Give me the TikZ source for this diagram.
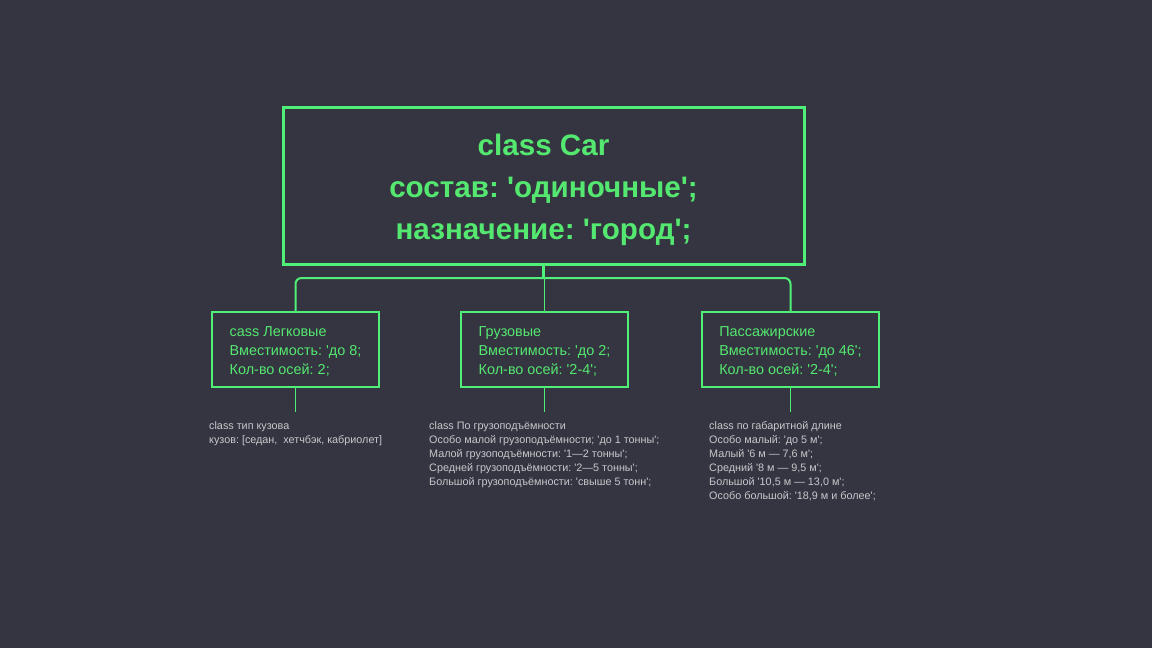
\documentclass[tikz,border=0pt]{standalone}
\usepackage{fontspec}
\setmainfont{Liberation Sans}[Ligatures=TeXOff]
\usetikzlibrary{positioning}
\definecolor{bgcol}{RGB}{52,53,64}
\definecolor{linegreen}{RGB}{80,240,120}
\definecolor{textgreen}{RGB}{84,232,112}
\definecolor{notegray}{RGB}{200,200,204}
\tikzset{
  rootbox/.style={draw=linegreen,line width=3pt,minimum width=521pt,minimum height=157pt},
  roottext/.style={align=center,text=textgreen,font=\fontsize{29.6}{42}\selectfont\bfseries},
  kindbox/.style={draw=linegreen,line width=1.8pt,minimum height=75pt},
  kindtext/.style={align=left,inner sep=0pt,text=textgreen,font=\fontsize{14.4}{19}\selectfont},
  note/.style={anchor=north west,inner sep=0pt,align=left,text=notegray,
    font=\fontsize{10.8}{14}\selectfont},
  wire/.style={draw=linegreen,line width=1.2pt},
}

\begin{document}
\frenchspacing
\begin{tikzpicture}[x=1pt,y=-1pt]
  \useasboundingbox[fill=bgcol] (0,0) rectangle (1152,648);
  % root class
  \node[rootbox] (car) at (543.5,185.5) {};
  \node[roottext] (cartext) at ([yshift=-4pt]car.center) {class Car\\состав: 'одиночные';\\назначение: 'город';};
  % three kinds
  \node[kindbox,minimum width=167pt] (legk) at (295.5,349.5) {};
  \node[kindbox,minimum width=167pt] (gruz) at (544.5,349.5) {};
  \node[kindbox,minimum width=177pt] (pass) at (790.5,349.5) {};
  \node[kindtext] (legktext) at ([yshift=-2pt]legk.center) {cass Легковые\\Вместимость: 'до 8;\\Кол-во осей: 2;};
  \node[kindtext] (gruztext) at ([yshift=-2pt]gruz.center) {Грузовые\\Вместимость: 'до 2;\\Кол-во осей: '2-4';};
  \node[kindtext] (passtext) at ([yshift=-2pt]pass.center) {Пассажирские\\Вместимость: 'до 46';\\Кол-во осей: '2-4';};
  % tree
  \coordinate (hub) at (543.5,278);
  \draw[wire,line width=3pt] (car.south) -- (hub);
  \draw[wire,line width=2pt,rounded corners=6pt] (legk.north) |- (hub) -| (pass.north);
  \draw[wire] (gruz.north |- hub) -- (gruz.north);
  % notes
  \coordinate (legkend) at (295.5,412);
  \coordinate (gruzend) at (544.5,412);
  \coordinate (passend) at (790.5,412);
  \draw[wire] (legk.south) -- (legkend);
  \draw[wire] (gruz.south) -- (gruzend);
  \draw[wire] (pass.south) -- (passend);
  \node[note] (legknote) at (209,421) {class тип кузова\\кузов: [седан,\ \ хетчбэк, кабриолет]};
  \node[note] (gruznote) at (429,421) {class По грузоподъёмности\\Особо малой грузоподъёмности; 'до 1 тонны';\\Малой грузоподъёмности: '1—2 тонны';\\Средней грузоподъёмности: '2—5 тонны';\\Большой грузоподъёмности: 'свыше 5 тонн';};
  \node[note] (passnote) at (709,421) {class по габаритной длине\\Особо малый: 'до 5 м';\\Малый '6 м — 7,6 м';\\Средний '8 м — 9,5 м';\\Большой '10,5 м — 13,0 м';\\Особо большой: '18,9 м и более';};
\end{tikzpicture}
\end{document}
